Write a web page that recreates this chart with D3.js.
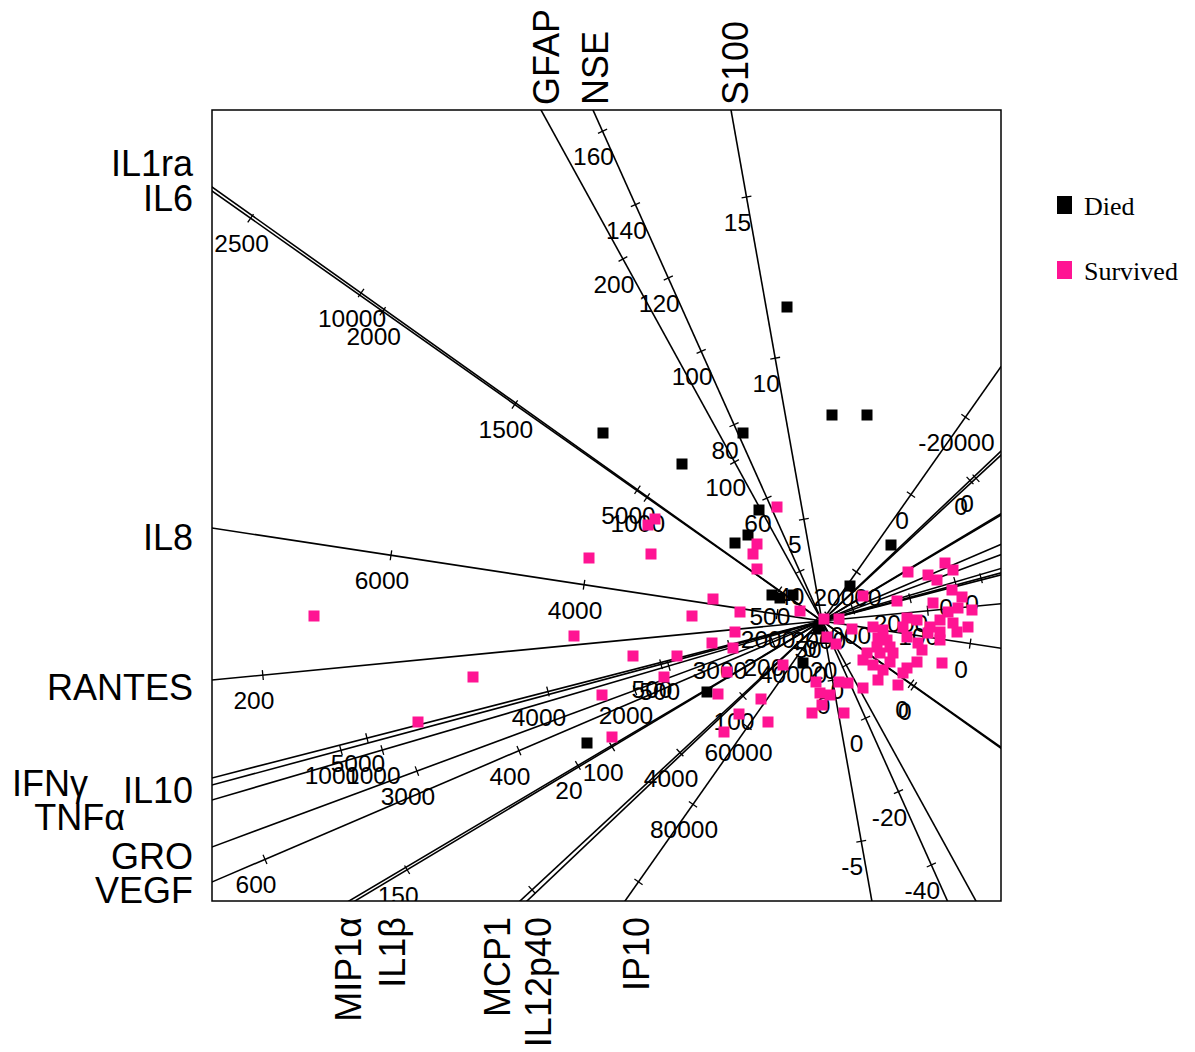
<!DOCTYPE html>
<html>
<head>
<meta charset="utf-8">
<script src="https://cdn.jsdelivr.net/npm/d3@7"></script>
<style>
  body { margin: 0; background: #fff; }
  text { font-family: "Liberation Sans", Arial, sans-serif; }
</style>
</head>
<body>
<svg id="chart" width="1195" height="1052"></svg>
<script>
// ---- biplot variables -------------------------------------------------
const variables = ["IL1ra","IL6","IL8","RANTES","IFNγ","IL10","TNFα","GRO","VEGF",
                   "MIP1α","IL1β","MCP1","IL12p40","IP10","GFAP","NSE","S100"];

// loading direction of each variable in the biplot plane
const loadings = [[-6.10,4.30],[-6.10,4.34],[-6.10,0.93],[-6.10,-0.59],[-6.10,-1.57],
                  [-6.10,-1.64],[-6.10,-1.79],[-6.10,-2.26],[-6.10,-2.61],[-4.73,-2.80],
                  [-4.67,-2.80],[-3.02,-2.80],[-2.95,-2.80],[-1.97,-2.80],[-2.81,5.11],
                  [-2.29,5.11],[-0.91,5.11]];

// variable value found at the biplot origin
const centres = [337,1661,1535,115.9,2486,248.5,232.5,1142,161.3,-0.26,48.8,2081,65.2,32650,21.7,26.5,1.84];

// biplot units per unit of each variable (axis calibration)
const calibration = [0.003232,0.0006784,0.0009765,0.0668,0.001869,0.006628,0.00597,0.002325,
                     0.01381,0.14,0.0478,0.001009,0.0313,0.00004735,0.02317,0.0402,0.3272];

// calibrated tick values along each axis
const tickValues = [
  [2500,2000,1500,1000,500,0],
  [10000,5000,0],
  [6000,4000,2000,0],
  [200,100],
  [5000,4000,3000,2000],
  [1000,500,0],
  [1000,500,0],
  [3000,2000,1000],
  [600,400,200],
  [20,0],
  [150,100,50],
  [6000,4000,2000,0],
  [200,100,0],
  [100000,80000,60000,40000,20000,0,-20000],
  [200,100,0],
  [160,140,120,100,80,60,40,20,0,-20,-40],
  [15,10,5,0,-5]
];

// ---- patient scores ---------------------------------------------------
const diedPC1 = [-0.35,-2.19,-0.79,0.10,0.45,-1.40,-0.63,-0.74,-0.87,0.69,0.28,-0.50,-0.42,-0.29,-0.04,-0.19,-1.15,-2.35];
const diedPC2 = [3.14,1.88,1.88,2.06,2.06,1.57,1.11,0.86,0.78,0.76,0.35,0.26,0.23,0.26,-0.08,-0.42,-0.71,-1.22];

const survivedPC1 = [-5.08,-4.04,-3.49,-2.48,-2.33,-2.20,-2.10,-1.89,-1.74,-1.67,-1.71,-1.58,-1.45,-1.30,-1.10,
  -1.09,-1.04,-0.95,-0.89,-0.87,-0.82,-0.83,-0.98,-0.69,-0.65,-0.65,-0.61,-0.54,-0.45,-0.39,-0.22,0.02,0.17,
  0.05,0.14,-0.06,-0.02,0.08,0.00,-0.10,0.22,0.17,0.26,0.41,0.56,0.76,0.30,0.41,0.51,0.61,0.56,0.65,0.55,0.68,
  0.45,0.58,0.71,0.41,0.51,0.68,0.61,0.75,0.86,0.85,0.95,0.81,0.85,0.96,1.00,0.95,0.85,0.81,1.06,1.23,1.31,
  1.15,1.30,1.40,1.50,1.11,1.36,1.26,1.18,1.08,1.31,1.46,1.06,1.18,1.35,1.20,1.18];
const survivedPC2 = [0.05,-1.01,-0.56,-0.15,0.63,-0.74,-1.16,-0.35,0.96,1.02,0.67,-0.56,-0.35,0.05,-0.22,
  0.22,-0.73,-0.51,-0.27,-0.11,0.09,-0.93,-1.11,0.67,0.77,0.52,-0.78,-1.01,1.14,-0.44,0.10,0.02,0.02,
  -0.16,-0.23,-0.61,-0.72,-0.74,-0.84,-0.92,-0.92,-0.61,-0.62,-0.67,-0.59,-0.64,-0.08,0.25,-0.06,-0.09,-0.17,-0.19,-0.26,-0.26,
  -0.32,-0.32,-0.32,-0.39,-0.44,-0.41,-0.49,0.20,0.49,0.03,0.01,-0.06,-0.16,-0.22,-0.29,-0.41,-0.47,-0.52,0.46,0.58,0.51,
  0.41,0.31,0.24,0.11,0.18,0.13,0.09,0.01,-0.06,-0.02,-0.06,-0.12,-0.11,-0.11,-0.42,-0.19];

const groups = ["Died", "Survived"];
const groupColours = ["#000000", "#ff1493"];

// ---- layout -----------------------------------------------------------
const svg = d3.select("#chart");
const box = { left: 212, top: 110, right: 1001, bottom: 901 };

const x = d3.scaleLinear().domain([-6.10, 1.79]).range([box.left, box.right]);
const y = d3.scaleLinear().domain([-2.80, 5.11]).range([box.bottom, box.top]);

// small shifts that keep neighbouring axis names apart
const nameNudge = {
  "IL1ra": {dx: 0, dy: -35}, "IL6": {dx: 0, dy: 4}, "IL8": {dx: 0, dy: 2}, "RANTES": {dx: 0, dy: 0},
  "IFNγ": {dx: -105, dy: -2}, "IL10": {dx: 0, dy: -2}, "TNFα": {dx: -68, dy: 10},
  "GRO": {dx: 0, dy: 2}, "VEGF": {dx: 0, dy: 1},
  "MIP1α": {dx: -1, dy: 0}, "IL1β": {dx: 37, dy: 0}, "MCP1": {dx: -23, dy: 0},
  "IL12p40": {dx: 11, dy: 0}, "IP10": {dx: 11, dy: 0},
  "GFAP": {dx: 5, dy: 0}, "NSE": {dx: 2, dy: 0}, "S100": {dx: 4, dy: 0}
};

svg.append("defs").append("clipPath").attr("id", "plotClip")
  .append("rect")
  .attr("x", box.left).attr("y", box.top)
  .attr("width", box.right - box.left).attr("height", box.bottom - box.top);

const plot = svg.append("g").attr("clip-path", "url(#plotClip)");

const axes = variables.map((name, i) => {
  const [lx, ly] = loadings[i];
  const len = Math.hypot(lx, ly);
  const u = [lx / len, ly / len];
  const pos = v => {
    const d = (v - centres[i]) * calibration[i];
    return [x(d * u[0]), y(d * u[1])];
  };
  return { name, u, pos, ticks: tickValues[i] };
});

// axis lines through the origin
plot.selectAll("line.axis")
  .data(axes)
  .join("line")
  .attr("class", "axis")
  .attr("x1", a => x(-20 * a.u[0])).attr("y1", a => y(-20 * a.u[1]))
  .attr("x2", a => x(20 * a.u[0])).attr("y2", a => y(20 * a.u[1]))
  .attr("stroke", "#000").attr("stroke-width", 1.6);

// tick marks and their calibration labels
const tickData = axes.flatMap(a => a.ticks.map(v => {
  const [px, py] = a.pos(v);
  // perpendicular in screen space
  const nx = a.u[1], ny = a.u[0];
  return { v, px, py, nx, ny };
}));

plot.selectAll("line.tick")
  .data(tickData)
  .join("line")
  .attr("class", "tick")
  .attr("x1", d => d.px - 5 * d.nx).attr("y1", d => d.py - 5 * d.ny)
  .attr("x2", d => d.px + 5 * d.nx).attr("y2", d => d.py + 5 * d.ny)
  .attr("stroke", "#000").attr("stroke-width", 1.3);

// a label is only written when its centre falls inside the frame
const labelDx = -9, labelDy = 25.5;
const labelled = tickData.filter(d =>
  d.px + labelDx > box.left + 20 && d.px + labelDx < box.right - 20 &&
  d.py + labelDy > box.top + 12 && d.py + labelDy < box.bottom);

plot.selectAll("text.ticklab")
  .data(labelled)
  .join("text")
  .attr("class", "ticklab")
  .attr("x", d => d.px + labelDx).attr("y", d => d.py + labelDy)
  .attr("text-anchor", "middle")
  .attr("dominant-baseline", "central")
  .attr("font-size", 24.5)
  .attr("fill", "#000")
  .text(d => d.v);

// patient points
const points = [
  ...diedPC1.map((p, i) => ({ g: 0, pc1: p, pc2: diedPC2[i] })),
  ...survivedPC1.map((p, i) => ({ g: 1, pc1: p, pc2: survivedPC2[i] }))
];
const size = 11;
plot.selectAll("rect.pt")
  .data(points)
  .join("rect")
  .attr("class", "pt")
  .attr("x", d => x(d.pc1) - size / 2)
  .attr("y", d => y(d.pc2) - size / 2)
  .attr("width", size).attr("height", size)
  .attr("fill", d => groupColours[d.g]);

// frame
svg.append("rect")
  .attr("x", box.left).attr("y", box.top)
  .attr("width", box.right - box.left).attr("height", box.bottom - box.top)
  .attr("fill", "none").attr("stroke", "#000").attr("stroke-width", 1.5);

// axis names at the point where each axis leaves the frame
axes.forEach(a => {
  const [ux, uy] = a.u;
  const tx = ux < 0 ? x.domain()[0] / ux : x.domain()[1] / ux;
  const ty = uy < 0 ? y.domain()[0] / uy : y.domain()[1] / uy;
  const t = Math.min(tx, ty);
  const ex = x(t * ux), ey = y(t * uy);
  const nudge = nameNudge[a.name];
  const label = svg.append("text")
    .attr("font-size", 36)
    .attr("fill", "#000")
    .attr("dominant-baseline", "central")
    .text(a.name);
  if (tx <= ty) {
    label.attr("text-anchor", "end")
      .attr("x", box.left - 19 + nudge.dx)
      .attr("y", ey + 7 + nudge.dy);
  } else if (uy > 0) {
    label.attr("text-anchor", "start")
      .attr("transform", `translate(${ex + nudge.dx},${box.top - 5}) rotate(-90)`);
  } else {
    label.attr("text-anchor", "end")
      .attr("transform", `translate(${ex + nudge.dx},${box.bottom + 16}) rotate(-90)`);
  }
});

// legend
const legend = svg.append("g").attr("transform", "translate(1057,196)");
groups.forEach((g, i) => {
  const row = legend.append("g").attr("transform", `translate(0,${i * 65})`);
  row.append("rect").attr("width", 15).attr("height", 18).attr("fill", groupColours[i]);
  row.append("text")
    .attr("x", 27).attr("y", 10)
    .attr("dominant-baseline", "central")
    .attr("font-size", 26)
    .style("font-family", "'Liberation Serif', 'Times New Roman', serif")
    .text(g);
});
</script>
</body>
</html>
